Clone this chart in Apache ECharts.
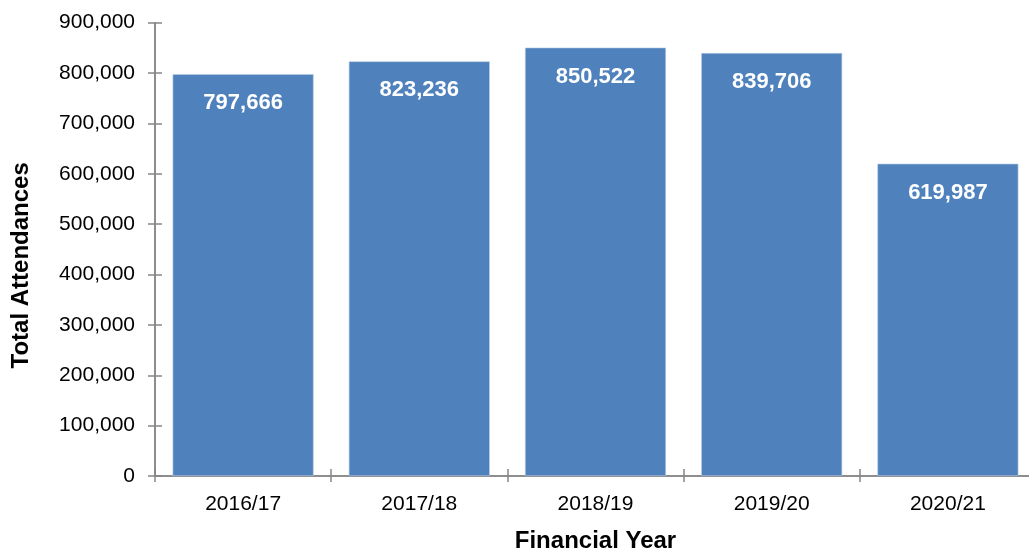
<!DOCTYPE html>
<html>
<head>
<meta charset="utf-8">
<script src="https://cdn.jsdelivr.net/npm/echarts@6/dist/echarts.min.js"></script>
<style>
  html, body { margin: 0; padding: 0; background: #ffffff; }
  #chart { width: 1029px; height: 551px; }
</style>
</head>
<body>
<div id="chart"></div>
<script>
// Attendances per financial year
const years = ['2016/17', '2017/18', '2018/19', '2019/20', '2020/21'];
const attendances = [797666, 823236, 850522, 839706, 619987];
const yMin = 0;
const yMax = 900000;
const yStep = 100000;

const FONT = '"Liberation Sans", Arial, sans-serif';
const AXIS_GRAY = '#868686';
const BAR_BLUE = '#4F81BD';

const fmt = v => v.toLocaleString('en-US');

const chart = echarts.init(document.getElementById('chart'), null, { renderer: 'canvas' });

const valueAxisBase = {
  type: 'value',
  min: yMin,
  max: yMax,
  interval: yStep,
  splitLine: { show: false },
  axisLine: { show: true, lineStyle: { color: AXIS_GRAY, width: 1.5 } }
};

const catAxisBase = {
  type: 'category',
  data: years,
  boundaryGap: true,
  axisLine: { show: true, lineStyle: { color: AXIS_GRAY, width: 1.5 } }
};

chart.setOption({
  animation: false,
  backgroundColor: '#ffffff',
  grid: { left: 155, right: -7, top: 22.7, bottom: 75, containLabel: false, outerBoundsMode: 'none' },
  xAxis: [
    Object.assign({}, catAxisBase, {
      name: 'Financial Year',
      nameLocation: 'middle',
      nameGap: 53,
      nameTextStyle: { fontFamily: FONT, fontSize: 24, fontWeight: 'bold', color: '#000' },
      axisTick: { show: true, inside: false, length: 6, lineStyle: { color: AXIS_GRAY, width: 1.5 } },
      axisLabel: { margin: 18, fontFamily: FONT, fontSize: 21, color: '#000' }
    }),
    Object.assign({}, catAxisBase, {
      position: 'bottom',
      axisTick: { show: true, inside: true, length: 7, lineStyle: { color: AXIS_GRAY, width: 1.5 } },
      axisLabel: { show: false }
    })
  ],
  yAxis: [
    Object.assign({}, valueAxisBase, {
      name: 'Total Attendances',
      nameLocation: 'middle',
      nameGap: 122,
      nameRotate: 90,
      nameTextStyle: { fontFamily: FONT, fontSize: 24, fontWeight: 'bold', color: '#000', padding: [0, 32, 0, 0] },
      axisTick: { show: true, inside: false, length: 7, lineStyle: { color: AXIS_GRAY, width: 1.5 } },
      axisLabel: { margin: 20, fontFamily: FONT, fontSize: 21, color: '#000', formatter: v => fmt(v) }
    }),
    Object.assign({}, valueAxisBase, {
      position: 'left',
      axisTick: { show: true, inside: true, length: 7, lineStyle: { color: AXIS_GRAY, width: 1.5 } },
      axisLabel: { show: false }
    })
  ],
  series: [{
    type: 'bar',
    data: attendances,
    xAxisIndex: 0,
    yAxisIndex: 0,
    barCategoryGap: '20%',
    itemStyle: { color: BAR_BLUE, borderColor: '#b9cde5', borderWidth: 0.6 },
    label: {
      show: true,
      position: 'insideTop',
      distance: 18,
      color: '#ffffff',
      fontFamily: FONT,
      fontSize: 22,
      fontWeight: 'bold',
      formatter: p => fmt(p.value)
    }
  }]
});
</script>
</body>
</html>
